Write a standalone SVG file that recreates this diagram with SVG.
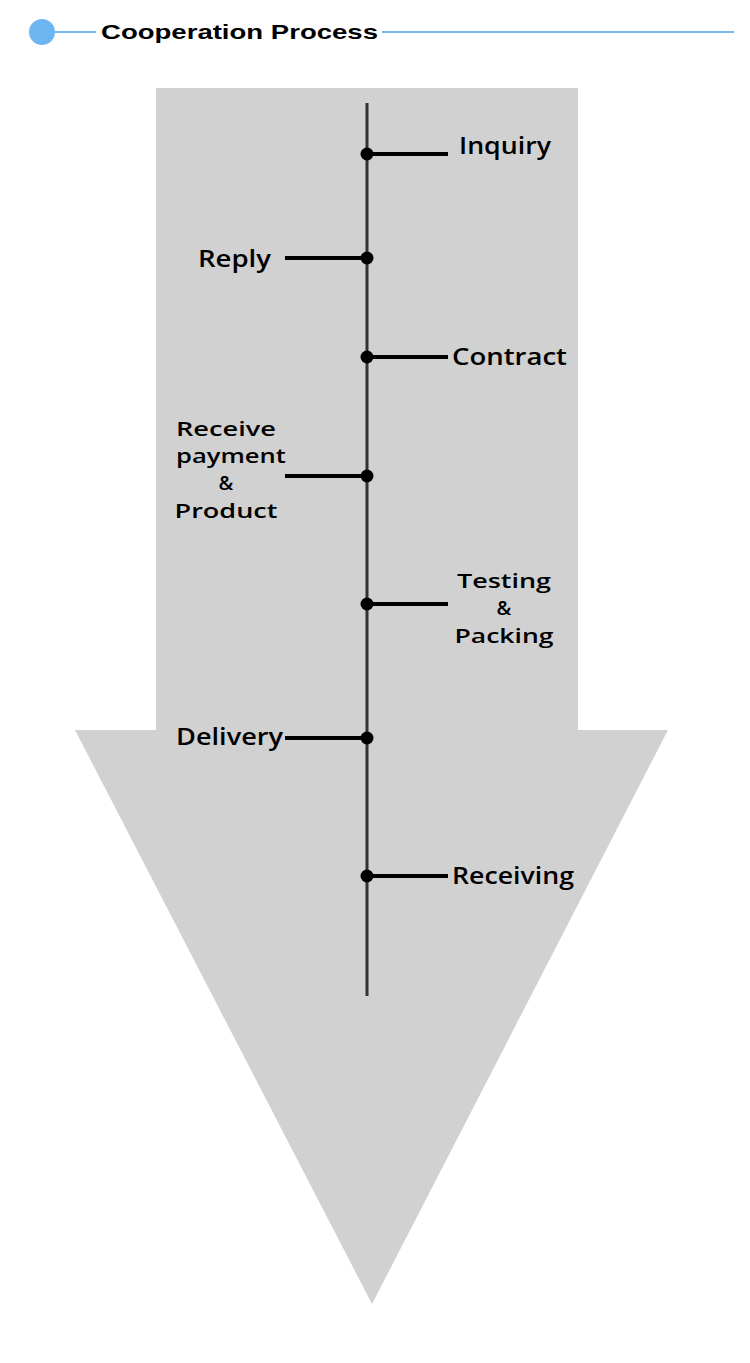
<svg xmlns="http://www.w3.org/2000/svg" width="750" height="1363" viewBox="0 0 750 1363">
<style>
.lbl{font-family:"Comic Sans MS","Open Sans","DejaVu Sans",sans-serif;font-size:24px;font-weight:600;fill:#000}
.ml{font-size:20px}
.br{stroke:#000;stroke-width:4}
.dot{fill:#000}
.hdr{stroke:#74b9ee;stroke-width:2}
</style>
<rect width="750" height="1363" fill="#fff"/>
<g id="header">
<circle cx="42" cy="32" r="13" fill="#6db6f2"/>
<line class="hdr" x1="55" y1="32" x2="96" y2="32"/>
<line class="hdr" x1="382" y1="32" x2="734" y2="32"/>
<text x="101" y="39" font-family="Liberation Sans, Arial, sans-serif" font-size="21" font-weight="bold" textLength="277" lengthAdjust="spacingAndGlyphs">Cooperation Process</text>
</g>
<g id="arrow">
<polygon points="156,88 578,88 578,730 668,730 372,1304 75,730 156,730" fill="#d1d1d1"/>
</g>
<g id="connectors">
<line x1="367" y1="103" x2="367" y2="996" stroke="#333" stroke-width="3"/>
<line class="br" x1="367" y1="154" x2="448" y2="154"/>
<line class="br" x1="285" y1="258" x2="367" y2="258"/>
<line class="br" x1="367" y1="357" x2="448" y2="357"/>
<line class="br" x1="285" y1="476" x2="367" y2="476"/>
<line class="br" x1="367" y1="604" x2="448" y2="604"/>
<line class="br" x1="285" y1="738" x2="367" y2="738"/>
<line class="br" x1="367" y1="876" x2="448" y2="876"/>
</g>
<g id="n-inquiry">
<circle class="dot" cx="367" cy="154" r="6.5"/>
<text class="lbl" x="459" y="154" textLength="92" lengthAdjust="spacingAndGlyphs">Inquiry</text>
</g>
<g id="n-reply">
<circle class="dot" cx="367" cy="258" r="6.5"/>
<text class="lbl" x="198" y="267" textLength="73" lengthAdjust="spacingAndGlyphs">Reply</text>
</g>
<g id="n-contract">
<circle class="dot" cx="367" cy="357" r="6.5"/>
<text class="lbl" x="452" y="365" textLength="115" lengthAdjust="spacingAndGlyphs">Contract</text>
</g>
<g id="n-receive">
<circle class="dot" cx="367" cy="476" r="6.5"/>
<text class="lbl ml" x="226" y="436" text-anchor="middle" textLength="100" lengthAdjust="spacingAndGlyphs">Receive</text>
<text class="lbl ml" x="231" y="463" text-anchor="middle" textLength="110" lengthAdjust="spacingAndGlyphs">payment</text>
<text class="lbl ml" x="226" y="490" text-anchor="middle">&amp;</text>
<text class="lbl ml" x="226" y="518" text-anchor="middle" textLength="103" lengthAdjust="spacingAndGlyphs">Product</text>
</g>
<g id="n-testing">
<circle class="dot" cx="367" cy="604" r="6.5"/>
<text class="lbl ml" x="504" y="588" text-anchor="middle" textLength="94" lengthAdjust="spacingAndGlyphs">Testing</text>
<text class="lbl ml" x="504" y="615" text-anchor="middle">&amp;</text>
<text class="lbl ml" x="504" y="643" text-anchor="middle" textLength="99" lengthAdjust="spacingAndGlyphs">Packing</text>
</g>
<g id="n-delivery">
<circle class="dot" cx="367" cy="738" r="6.5"/>
<text class="lbl" x="176" y="745" textLength="107" lengthAdjust="spacingAndGlyphs">Delivery</text>
</g>
<g id="n-receiving">
<circle class="dot" cx="367" cy="876" r="6.5"/>
<text class="lbl" x="452" y="884" textLength="122" lengthAdjust="spacingAndGlyphs">Receiving</text>
</g>
</svg>
